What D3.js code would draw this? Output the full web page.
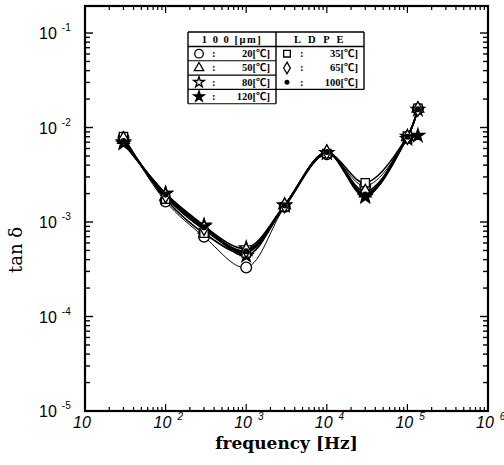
<!DOCTYPE html>
<html><head><meta charset="utf-8">
<script src="https://cdn.jsdelivr.net/npm/d3@7"></script>
<style>body{margin:0;background:#fff}svg{display:block}</style>
</head><body>
<svg id="chart" width="504" height="465"></svg>
<script>
// Dielectric loss tangent of 100 µm LDPE film vs. frequency at several temperatures
const freqs = [30, 100, 300, 1000, 3000, 10000, 30000, 100000, 135000];

const tan20  = [7.8e-3, 1.65e-3, 7.0e-4, 3.3e-4, 1.45e-3, 5.2e-3, 2.4e-3, 7.8e-3, 1.58e-2];
const tan50  = [7.4e-3, 1.85e-3, 8.3e-4, 4.8e-4, 1.5e-3, 5.4e-3, 2.0e-3, 7.9e-3, 1.58e-2];
const tan80  = [7.0e-3, 2.0e-3, 9.0e-4, 5.3e-4, 1.5e-3, 5.4e-3, 1.9e-3, 8.0e-3, 1.55e-2];
const tan120 = [6.8e-3, 2.0e-3, 9.2e-4, 4.4e-4, 1.5e-3, 5.4e-3, 1.85e-3, 7.6e-3, 8.2e-3];
const tan35  = [8.0e-3, 1.75e-3, 7.6e-4, 4.7e-4, 1.45e-3, 5.3e-3, 2.6e-3, 8.1e-3, 1.6e-2];
const tan65  = [7.6e-3, 1.9e-3, 8.6e-4, 5.0e-4, 1.5e-3, 5.5e-3, 2.1e-3, 7.9e-3, 1.57e-2];
const tan100 = [7.2e-3, 1.95e-3, 8.8e-4, 4.9e-4, 1.5e-3, 5.5e-3, 1.95e-3, 8.0e-3, 1.56e-2];

const seriesTemps   = ["20", "50", "80", "120", "35", "65", "100"];
const seriesMarkers = ["circle", "triangle", "star", "starFilled", "square", "diamond", "dot"];
const seriesValues  = [tan20, tan50, tan80, tan120, tan35, tan65, tan100];

const yExponents = [-1, -2, -3, -4, -5];
const xExponents = [1, 2, 3, 4, 5, 6];

const legendLeftHeader = "1 0 0 [\u03bcm]";
const legendRightHeader = "L D P E";

const svg = d3.select("#chart");
const x = d3.scaleLog().domain([10, 1e6]).range([85, 488]);
const y = d3.scaleLog().domain([1e-5, Math.pow(10, -0.714)]).range([411, 6]);

const X0 = x.range()[0], X1 = x.range()[1];
const Y0 = y.range()[0], Y1 = y.range()[1];

// ticks on all four sides, pointing inward
const ax = svg.append("g").attr("stroke", "#000");
const isMajor = v => Math.abs(Math.log10(v) - Math.round(Math.log10(v))) < 1e-6;
y.ticks().forEach(t => {
  const L = isMajor(t) ? 8 : 5, yy = y(t);
  ax.append("line").attr("x1", X0).attr("x2", X0 + L).attr("y1", yy).attr("y2", yy).attr("stroke-width", 1.4);
  ax.append("line").attr("x1", X1).attr("x2", X1 - L).attr("y1", yy).attr("y2", yy).attr("stroke-width", 1.4);
});
x.ticks().forEach(t => {
  const L = isMajor(t) ? 7 : 4, xx = x(t);
  ax.append("line").attr("x1", xx).attr("x2", xx).attr("y1", Y0).attr("y2", Y0 - L).attr("stroke-width", 1.2);
  ax.append("line").attr("x1", xx).attr("x2", xx).attr("y1", Y1).attr("y2", Y1 + L).attr("stroke-width", 1.2);
});
svg.append("rect").attr("x", X0).attr("y", Y1).attr("width", X1 - X0).attr("height", Y0 - Y1)
  .attr("fill", "none").attr("stroke", "#000").attr("stroke-width", 2.2);

// y tick labels: 10^n
const labFont = "'Liberation Sans', Arial, sans-serif";
yExponents.forEach(e => {
  const t = svg.append("text").attr("x", 39).attr("y", y(Math.pow(10, e)) + 6)
    .attr("font-family", labFont).attr("font-size", 16).attr("fill", "#000");
  t.append("tspan").text("10");
  t.append("tspan").attr("dx", 5).attr("dy", -8).attr("font-size", 10).text(String(e));
});
// x tick labels
xExponents.forEach(e => {
  const t = svg.append("text").attr("x", x(Math.pow(10, e)) - 12).attr("y", Y0 + 17)
    .attr("font-family", labFont).attr("font-style", "italic").attr("font-size", 16).attr("fill", "#000");
  t.append("tspan").text("10");
  if (e > 1) t.append("tspan").attr("dx", 6).attr("dy", -8).attr("font-size", 10).text(e);
});

// axis titles
svg.append("text").attr("x", (X0 + X1) / 2).attr("y", 449).attr("text-anchor", "middle")
  .attr("font-family", "'DejaVu Serif', serif").attr("font-size", 17).attr("font-weight", "bold")
  .text("frequency [Hz]");
svg.append("text").attr("transform", "translate(22,250) rotate(-90)").attr("text-anchor", "middle")
  .attr("font-family", "'DejaVu Serif', serif").attr("font-size", 18)
  .text("tan \u03b4");

// marker drawing
const markerArea = {circle: 90, triangle: 60, star: 55, starFilled: 55, square: 70, diamond: 60, dot: 18};
function marker(g, kind, cx, cy, s) {
  const k = s / 10;
  let shape, fill = "#fff";
  switch (kind) {
    case "circle": shape = d3.symbolCircle; break;
    case "triangle": shape = d3.symbolTriangle; break;
    case "star": shape = d3.symbolStar; break;
    case "starFilled": shape = d3.symbolStar; fill = "#000"; break;
    case "square": shape = d3.symbolSquare; break;
    case "diamond": shape = d3.symbolDiamond; break;
    case "dot": shape = d3.symbolCircle; fill = "#000"; break;
  }
  g.append("path").attr("d", d3.symbol().type(shape).size(markerArea[kind] * k * k)())
    .attr("transform", `translate(${cx},${cy})`)
    .attr("fill", fill).attr("stroke", "#000").attr("stroke-width", 1.3);
}

// curves
const line = d3.line().x(d => x(d[0])).y(d => y(d[1])).curve(d3.curveCatmullRom.alpha(0.5));
const plot = svg.append("g");
seriesValues.forEach((vals, i) => {
  const pts = freqs.map((f, j) => [f, vals[j]]);
  plot.append("path").attr("d", line(pts)).attr("fill", "none").attr("stroke", "#000")
    .attr("stroke-width", seriesMarkers[i] === "circle" ? 1.0 : 1.6);
});
seriesValues.forEach((vals, i) => {
  freqs.forEach((f, j) => marker(plot, seriesMarkers[i], x(f), y(vals[j]), 10));
});

// legend table
const lg = svg.append("g").attr("font-family", "'Liberation Serif', 'Noto Sans CJK JP', serif")
  .attr("font-weight", "bold").attr("font-size", 10.5);
const L0 = 188, LM = 276, LR = 364, T0 = 32, rowH = 14.3, hdrB = 46.5;
function ln(x1, y1, x2, y2, w) {
  lg.append("line").attr("x1", x1).attr("y1", y1).attr("x2", x2).attr("y2", y2)
    .attr("stroke", "#000").attr("stroke-width", w || 1.2);
}
const nLeft = 4, nRight = 3;
ln(L0, T0, LR, T0, 1.4);
ln(L0, hdrB, LR, hdrB, 1.4);
ln(L0, T0, L0, hdrB + nLeft * rowH, 1.4);
ln(LR, T0, LR, hdrB + nRight * rowH, 1.4);
ln(LM, T0, LM, hdrB + nLeft * rowH, 1.4);
for (let r = 1; r <= nLeft; r++) ln(L0, hdrB + r * rowH, LM, hdrB + r * rowH, 1.1);
ln(LM, hdrB + nRight * rowH, LR, hdrB + nRight * rowH, 1.1);

lg.append("text").attr("x", (L0 + LM) / 2).attr("y", T0 + 11).attr("text-anchor", "middle")
  .attr("letter-spacing", 1.5).text(legendLeftHeader);
lg.append("text").attr("x", (LM + LR) / 2).attr("y", T0 + 11).attr("text-anchor", "middle")
  .attr("letter-spacing", 2.5).text(legendRightHeader);

seriesTemps.forEach((tp, i) => {
  const left = i < nLeft;
  const r = left ? i : i - nLeft;
  const cy = hdrB + r * rowH + rowH / 2;
  const bx = left ? L0 : LM;
  marker(lg, seriesMarkers[i], bx + 11, cy, 8);
  lg.append("text").attr("x", bx + 24).attr("y", cy + 3.5).text(":");
  lg.append("text").attr("x", bx + 82).attr("y", cy + 3.5).attr("text-anchor", "end").text(tp + "[\u2103]");
});
</script>
</body></html>
